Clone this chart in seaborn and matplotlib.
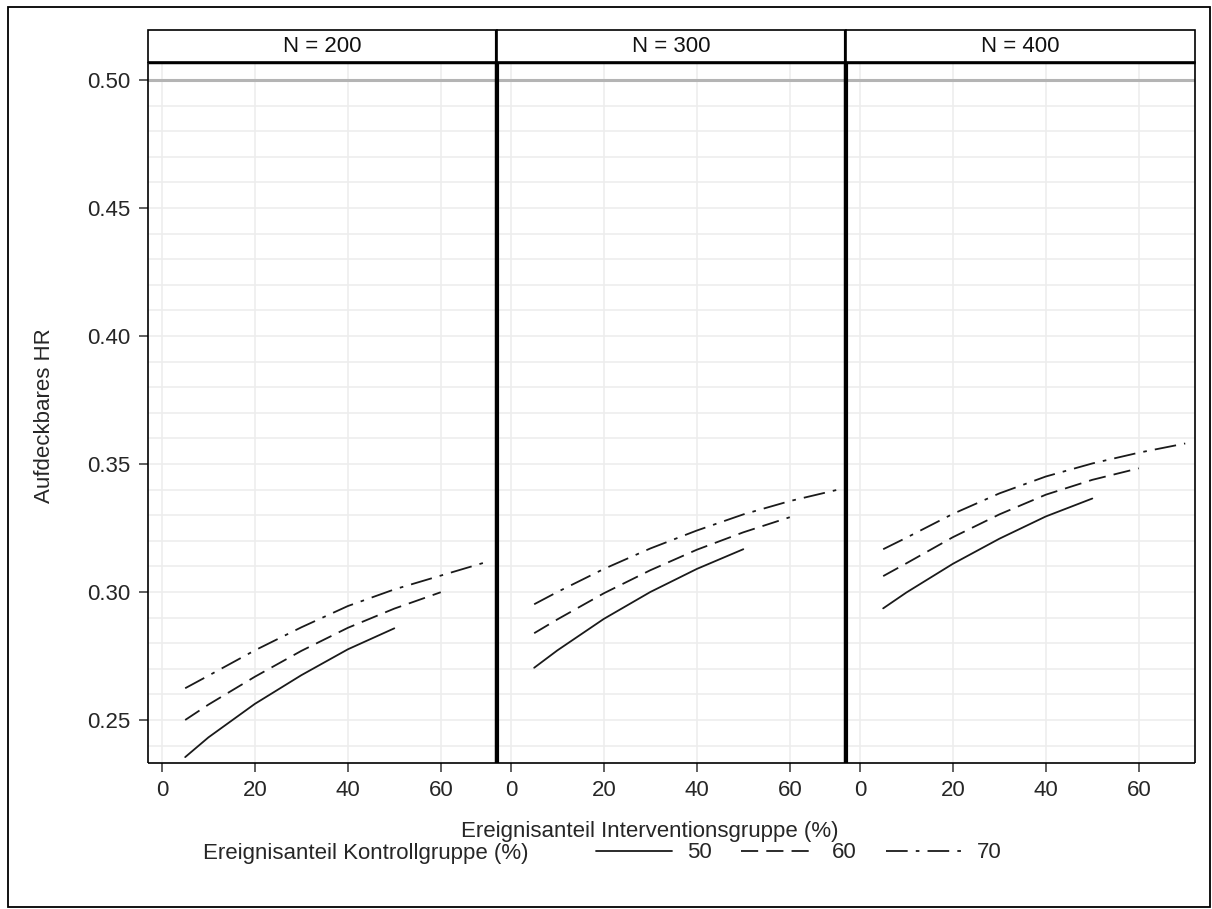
import numpy as np
import pandas as pd
import matplotlib
matplotlib.use("Agg")
import matplotlib.pyplot as plt
from matplotlib.lines import Line2D
from matplotlib.patches import Rectangle
from matplotlib.ticker import MultipleLocator
import seaborn as sns

# DATA ===========================================================================================================

panels = ["N = 200", "N = 300", "N = 400"]
control_groups = ["50", "60", "70"]

interv_50 = [5, 10, 20, 30, 40, 50]
interv_60 = [5, 10, 20, 30, 40, 50, 60]
interv_70 = [5, 10, 20, 30, 40, 50, 60, 70]

hr_200_50 = [0.2355, 0.2432, 0.2563, 0.2675, 0.2776, 0.2858]
hr_200_60 = [0.2500, 0.2560, 0.2669, 0.2770, 0.2860, 0.2935, 0.2999]
hr_200_70 = [0.2624, 0.2673, 0.2772, 0.2862, 0.2945, 0.3010, 0.3064, 0.3118]

hr_300_50 = [0.2704, 0.2772, 0.2895, 0.3000, 0.3090, 0.3167]
hr_300_60 = [0.2839, 0.2893, 0.2995, 0.3085, 0.3165, 0.3233, 0.3292]
hr_300_70 = [0.2952, 0.3000, 0.3090, 0.3170, 0.3240, 0.3303, 0.3355, 0.3398]

hr_400_50 = [0.2936, 0.2998, 0.3110, 0.3208, 0.3295, 0.3365]
hr_400_60 = [0.3062, 0.3112, 0.3214, 0.3303, 0.3380, 0.3438, 0.3483]
hr_400_70 = [0.3167, 0.3212, 0.3305, 0.3385, 0.3451, 0.3502, 0.3544, 0.3580]

x_ticks = [0, 20, 40, 60]
y_ticks = [0.25, 0.30, 0.35, 0.40, 0.45, 0.50]
reference_hr = 0.50

# TABLE ==========================================================================================================

interv_lists = {"50": interv_50, "60": interv_60, "70": interv_70}
hr_lists = {
    "N = 200": {"50": hr_200_50, "60": hr_200_60, "70": hr_200_70},
    "N = 300": {"50": hr_300_50, "60": hr_300_60, "70": hr_300_70},
    "N = 400": {"50": hr_400_50, "60": hr_400_60, "70": hr_400_70},
}

rows = []
for panel in panels:
    for grp in control_groups:
        for xv, yv in zip(interv_lists[grp], hr_lists[panel][grp]):
            rows.append([panel, grp, xv, yv])
data = pd.DataFrame(rows, columns=["N", "Kontrolle", "Intervention", "HR"])

# PLOTTER ========================================================================================================

sns.set_style("white")
plt.rcParams["font.family"] = ["Liberation Sans", "DejaVu Sans"]
plt.rcParams["font.size"] = 16

line_color = "#1a1a1a"
line_width = 1.3
dash_styles = {"50": "", "60": (9.5, 4.5), "70": (12, 4.5, 2, 4.5)}

fig, axes = plt.subplots(1, 3, figsize=(12.12, 9.09), dpi=100, sharey=True)
fig.subplots_adjust(left=148 / 1212, right=1195 / 1212, bottom=1 - 763 / 909, top=1 - 62 / 909, wspace=0)

strip_h = 32 / 701

for i, (ax, panel) in enumerate(zip(axes, panels)):
    sub = data[data["N"] == panel]
    ax.axhline(reference_hr, color="#b4b4b4", lw=2.2, zorder=1)
    sns.lineplot(data=sub, x="Intervention", y="HR", style="Kontrolle", style_order=control_groups,
                 dashes=dash_styles, color=line_color, linewidth=line_width, legend=False, ax=ax,
                 estimator=None, sort=True, zorder=3)

    ax.set_xlim(-3, 72.1)
    ax.set_ylim(0.2332, 0.507)
    ax.set_xticks(x_ticks)
    ax.set_yticks(y_ticks)
    ax.yaxis.set_minor_locator(MultipleLocator(0.01))
    ax.grid(True, axis="x", which="major", color="#ededed", lw=1.2, zorder=0)
    ax.grid(True, axis="y", which="both", color="#ededed", lw=1.2, zorder=0)
    ax.set_axisbelow(True)
    ax.set_xlabel("")
    ax.set_ylabel("")

    ax.tick_params(axis="x", which="major", direction="out", length=6.5, width=1.2, pad=6,
                   color="#444444", labelsize=16, bottom=True)
    ax.tick_params(axis="y", which="minor", length=0)
    if i == 0:
        ax.tick_params(axis="y", which="major", direction="out", length=6.5, width=1.2, pad=6,
                       color="#444444", labelsize=16, left=True)
        ax.yaxis.set_major_formatter(plt.FuncFormatter(lambda v, p: f"{v:.2f}"))
    else:
        ax.tick_params(axis="y", which="major", left=False, labelleft=False)

    for side in ["left", "right", "bottom", "top"]:
        ax.spines[side].set_color("black")
        ax.spines[side].set_capstyle("butt")
    ax.spines["bottom"].set_linewidth(1.2)
    ax.spines["top"].set_linewidth(2.5)
    ax.spines["left"].set_linewidth(1.2 if i == 0 else 3)
    ax.spines["right"].set_linewidth(1.2 if i == 2 else 3)

    # strip header
    ax.add_patch(Rectangle((0, 1), 1, strip_h, transform=ax.transAxes, facecolor="white",
                           edgecolor="black", lw=1.2, clip_on=False, zorder=5))
    ax.text(0.5, 1 + strip_h / 2, panel, transform=ax.transAxes, ha="center", va="center",
            fontsize=16, color="#111111", zorder=6)
    if i < 2:
        ax.plot([1, 1], [0, 1 + strip_h], transform=ax.transAxes, color="black", lw=3,
                clip_on=False, zorder=7, solid_capstyle="butt")

fig.text(45 / 1212, 1 - 416 / 909, "Aufdeckbares HR", rotation=90, ha="center", va="center", fontsize=16)
fig.text(650 / 1212, 1 - 832 / 909, "Ereignisanteil Interventionsgruppe (%)", ha="center", va="center",
         fontsize=16)

legend_y = 1 - 853 / 909
fig.text(203 / 1212, legend_y, "Ereignisanteil Kontrollgruppe (%)", ha="left", va="center", fontsize=16)
handles = []
for grp in control_groups:
    h = Line2D([], [], color=line_color, lw=line_width)
    if dash_styles[grp]:
        h.set_dashes(dash_styles[grp])
    handles.append(h)
fig.legend(handles, control_groups, loc="center left", bbox_to_anchor=(596 / 1212, legend_y), ncol=3,
           frameon=False, handlelength=3.4, handletextpad=0.7, columnspacing=1.3, borderaxespad=0,
           borderpad=0, fontsize=16)

fig.patches.append(Rectangle((8 / 1212, 2 / 909), 1202 / 1212, 900 / 909, transform=fig.transFigure,
                             fill=False, edgecolor="black", lw=1.3))

plt.savefig("out.png", dpi=100)
